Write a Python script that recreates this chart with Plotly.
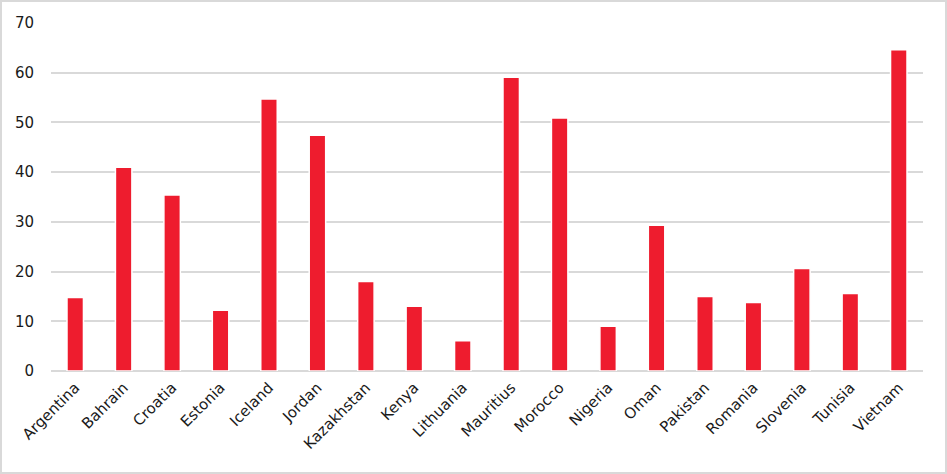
import plotly.graph_objects as go

countries = ["Argentina", "Bahrain", "Croatia", "Estonia", "Iceland", "Jordan",
             "Kazakhstan", "Kenya", "Lithuania", "Mauritius", "Morocco", "Nigeria",
             "Oman", "Pakistan", "Romania", "Slovenia", "Tunisia", "Vietnam"]
values = [14.8, 41.0, 35.4, 12.2, 54.7, 47.4, 18.0, 13.0, 6.1, 59.1, 50.9, 9.0,
          29.3, 15.0, 13.8, 20.6, 15.6, 64.6]
y_ticks = [0, 10, 20, 30, 40, 50, 60, 70]

W, H = 947, 474
ml, mr, mt, mb = 51, 24, 23, 103
pw = W - ml - mr
ph = H - mt - mb

fig = go.Figure(go.Bar(
    x=countries, y=values,
    marker=dict(color="#EE1C2E", line=dict(color="white", width=1.5)),
))

fig.update_layout(
    width=W, height=H,
    margin=dict(l=ml, r=mr, t=mt, b=mb, autoexpand=False),
    paper_bgcolor="white", plot_bgcolor="white",
    bargap=0.66,
    showlegend=False,
    font=dict(family="DejaVu Sans, sans-serif", size=15, color="#1a1a1a"),
    xaxis=dict(tickangle=-45, showgrid=False, showline=False, ticks="",
               tickfont=dict(size=15), automargin=False, ticklabelstandoff=4),
    yaxis=dict(range=[0, 70], tickvals=y_ticks, showgrid=True, gridcolor="#D9D9D9",
               gridwidth=1.5, zeroline=True, zerolinecolor="#D9D9D9", zerolinewidth=1.5,
               showline=False, ticks="", ticklabelstandoff=16, automargin=False),
    shapes=[dict(type="rect", xref="paper", yref="paper",
                 x0=-(ml - 1) / pw, x1=1 + (mr - 1) / pw,
                 y0=-(mb - 1) / ph, y1=1 + (mt - 1) / ph,
                 line=dict(color="#D9D9D9", width=2), layer="below")],
)

fig.write_html("out.html", config={"displayModeBar": False},
               post_script="document.body.style.margin='0';")
